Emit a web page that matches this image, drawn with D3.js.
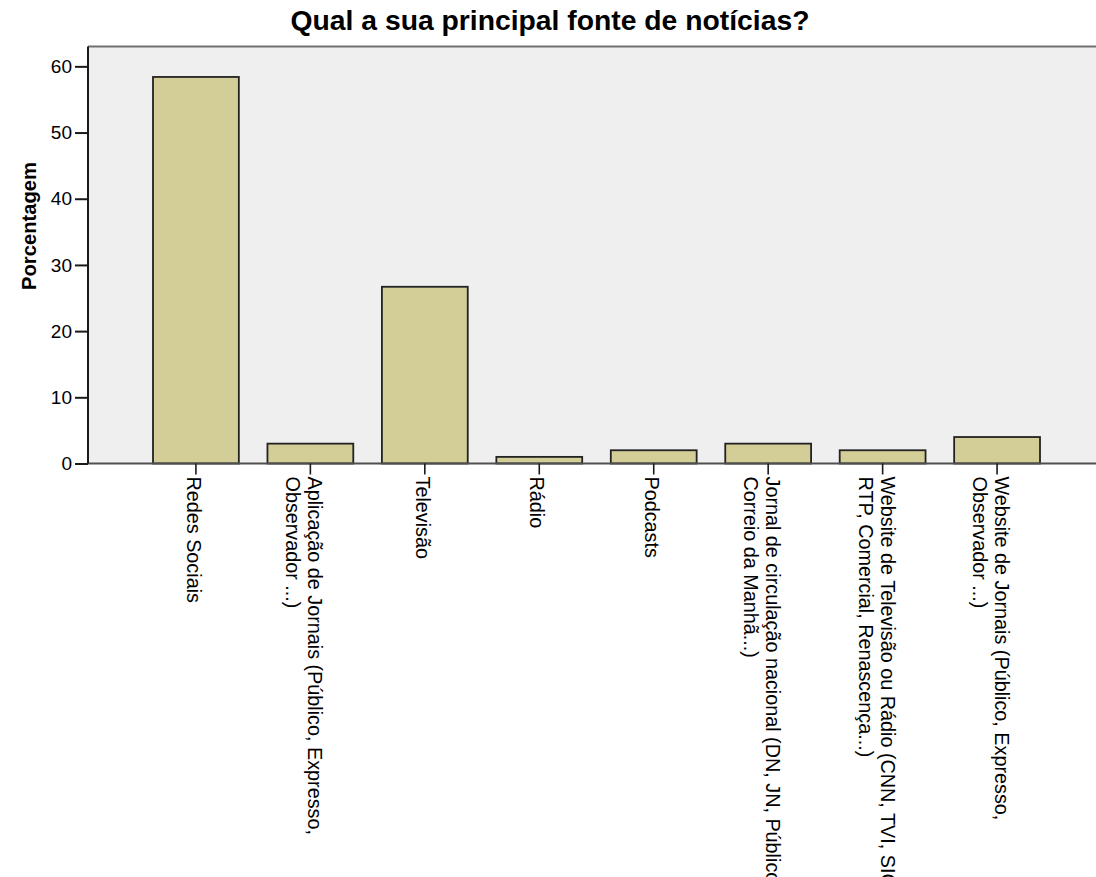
<!DOCTYPE html>
<html>
<head>
<meta charset="utf-8">
<script src="https://cdn.jsdelivr.net/npm/d3@7"></script>
<style>
  body { margin: 0; background: #fff; }
  text { font-family: "Liberation Sans", Arial, sans-serif; fill: #000; }
</style>
</head>
<body>
<svg class="chart"></svg>
<script>
var width = 1096,
    height = 877;

// categorias (cada linha do rótulo separada) e percentagens
var categories = [
  ["Redes Sociais"],
  ["Aplicação de Jornais (Público, Expresso,", "Observador ...)"],
  ["Televisão"],
  ["Rádio"],
  ["Podcasts"],
  ["Jornal de circulação nacional (DN, JN, Público,", "Correio da Manhã...)"],
  ["Website de Televisão ou Rádio (CNN, TVI, SIC,", "RTP, Comercial, Renascença...)"],
  ["Website de Jornais (Público, Expresso,", "Observador ...)"]
];
var values = [58.4, 3.0, 26.7, 1.0, 2.0, 3.0, 2.0, 4.0];
var yTicks = [0, 10, 20, 30, 40, 50, 60];

var title = "Qual a sua principal fonte de notícias?",
    yLabel = "Porcentagem";

var plotLeft = 88, plotTop = 46.5, plotBottom = 463.5, plotRight = 1110;

var data = categories.map(function(c, i) { return { key: i, lines: c, value: values[i] }; });

var chart = d3.select(".chart")
    .attr("width", width)
    .attr("height", height);

var x = d3.scaleBand()
    .domain(data.map(function(d) { return d.key; }))
    .range([153, 1040])
    .paddingInner(0.25)
    .paddingOuter(0);

var y = d3.scaleLinear()
    .domain([0, 63])
    .range([plotBottom, plotTop]);

// fundo da área do gráfico
chart.append("rect")
    .attr("x", plotLeft)
    .attr("y", plotTop)
    .attr("width", plotRight - plotLeft)
    .attr("height", plotBottom - plotTop)
    .attr("fill", "#efefef");

// borda superior
chart.append("line")
    .attr("x1", plotLeft).attr("x2", plotRight)
    .attr("y1", plotTop).attr("y2", plotTop)
    .attr("stroke", "#707070")
    .attr("stroke-width", 2);

// barras
chart.selectAll(".bar")
    .data(data)
  .enter().append("rect")
    .attr("class", "bar")
    .attr("x", function(d) { return x(d.key); })
    .attr("y", function(d) { return y(d.value); })
    .attr("width", x.bandwidth())
    .attr("height", function(d) { return y(0) - y(d.value); })
    .attr("fill", "#d3ce97")
    .attr("stroke", "#222")
    .attr("stroke-width", 1.8);

// eixo x (linha base)
chart.append("line")
    .attr("x1", plotLeft).attr("x2", plotRight)
    .attr("y1", plotBottom).attr("y2", plotBottom)
    .attr("stroke", "#505050")
    .attr("stroke-width", 2);

// eixo y
var yAxis = chart.append("g")
    .attr("transform", "translate(" + plotLeft + ",0)")
    .call(d3.axisLeft(y).tickValues(yTicks).tickSize(13).tickPadding(3).tickSizeOuter(0));

yAxis.select(".domain")
    .attr("d", "M0," + plotTop + "V" + plotBottom)
    .attr("stroke", "#1a1a1a")
    .attr("stroke-width", 2);
yAxis.selectAll(".tick line")
    .attr("stroke", "#1a1a1a")
    .attr("stroke-width", 2);
yAxis.selectAll(".tick text")
    .attr("font-size", "19px")
    .attr("font-family", "Liberation Sans, Arial, sans-serif")
    .attr("fill", "#000");

// marcas e rótulos do eixo x
var xt = chart.selectAll(".xtick")
    .data(data)
  .enter().append("g")
    .attr("class", "xtick")
    .attr("transform", function(d) { return "translate(" + (x(d.key) + x.bandwidth() / 2) + ",0)"; });

xt.append("line")
    .attr("y1", plotBottom)
    .attr("y2", plotBottom + 11)
    .attr("stroke", "#1a1a1a")
    .attr("stroke-width", 1.6);

xt.append("text")
    .attr("transform", "translate(0," + (plotBottom + 12) + ") rotate(90)")
    .attr("font-size", "19.8px")
    .each(function(d) {
      var t = d3.select(this);
      var first = 9 - 7 * (d.lines.length - 1);
      d.lines.forEach(function(line, i) {
        t.append("tspan")
          .attr("x", 1)
          .attr("y", first + i * 22)
          .text(line);
      });
    });

// título
chart.append("text")
    .attr("x", 550)
    .attr("y", 30)
    .attr("text-anchor", "middle")
    .attr("font-size", "28.3px")
    .attr("font-weight", "bold")
    .text(title);

// rótulo do eixo y
chart.append("text")
    .attr("transform", "translate(36,226) rotate(-90)")
    .attr("text-anchor", "middle")
    .attr("font-size", "20.2px")
    .attr("font-weight", "bold")
    .text(yLabel);
</script>
</body>
</html>
